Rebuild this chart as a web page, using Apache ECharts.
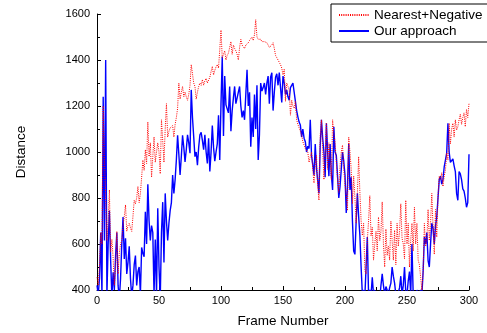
<!DOCTYPE html>
<html><head><meta charset="utf-8">
<script src="https://cdn.jsdelivr.net/npm/echarts@6/dist/echarts.min.js"></script>
<style>html,body{margin:0;padding:0;background:#fff}#c{width:487px;height:333px}</style>
</head><body><div id="c"></div>
<script>
// Frame numbers 0..300 (one sample per frame)
const frameStart = 0, frameEnd = 300;
const xTicks = [0, 50, 100, 150, 200, 250, 300];
const yTicks = [400, 600, 800, 1000, 1200, 1400, 1600];
const seriesNames = ["Nearest+Negative", "Our approach"];

// Nearest+Negative distances, frames 0..300
const nearestNegative = [
455,420,500,650,600,1200,965,800,615,700,835,565,620,540,420,500,655,470,560,600,
615,680,720,770,655,680,690,670,655,720,790,775,800,850,780,820,890,965,920,1010,
950,1130,980,1040,890,980,1065,955,1000,1040,1000,905,1140,1050,955,1100,1210,1065,1090,1105,
1100,1115,1065,1120,1150,1190,1300,1230,1260,1285,1240,1260,1240,1225,1250,1290,1380,1340,1300,1285,
1230,1260,1285,1300,1290,1315,1290,1310,1320,1300,1305,1325,1350,1372,1335,1355,1370,1380,1365,1445,
1530,1410,1415,1440,1400,1420,1430,1455,1480,1425,1465,1450,1440,1425,1400,1455,1490,1465,1470,1450,
1465,1470,1475,1485,1490,1500,1485,1510,1575,1500,1490,1485,1490,1480,1475,1480,1485,1475,1465,1455,
1450,1465,1475,1450,1420,1410,1400,1400,1380,1365,1335,1360,1220,1300,1285,1270,1160,1225,1200,1190,
1220,1140,1120,1105,1090,1075,1045,1030,1015,1010,1000,955,980,1000,925,865,950,985,850,790,
1070,1140,1010,880,1000,1125,925,1040,960,880,1140,1080,1040,955,880,825,940,1000,1030,925,
860,810,745,1065,1000,925,775,895,800,690,820,980,825,700,637,690,485,470,615,700,
810,635,673,530,600,655,570,717,615,655,783,600,500,665,550,590,530,700,615,530,
660,510,690,590,655,775,625,600,535,790,600,690,500,615,690,570,760,600,690,530,
510,455,400,480,690,590,615,750,615,690,820,673,555,750,630,805,895,880,910,850,
895,920,995,965,1125,1035,1100,1125,1065,1140,1095,1110,1140,1165,1120,1150,1170,1110,1185,1150,
1210
];

// Our approach distances, frames 0..300
const ourApproach = [
420,380,450,650,380,1240,615,1400,380,600,745,530,370,477,400,550,650,420,360,450,
600,717,535,625,470,520,590,450,370,420,510,550,420,480,500,380,585,560,545,740,
600,860,700,615,680,650,380,620,380,755,500,360,650,782,520,820,700,615,690,745,
780,900,820,880,965,1073,990,900,980,1073,1020,957,1010,1075,1040,995,1270,1150,1065,980,
1000,943,1020,1075,1085,1050,1010,1075,1000,950,1060,915,1000,1115,1020,960,1000,1035,1160,965,
1210,1415,1070,1330,1205,1210,1170,1285,1090,1180,1235,1285,1210,1235,1260,1285,1200,1150,1180,1140,
1250,1357,1200,1260,1023,1150,1065,1250,1100,1290,965,1075,1300,1265,1280,1300,1250,1300,1330,1210,
1325,1345,1180,1260,1325,1340,1290,1345,1345,1215,1330,1300,1250,1270,1240,1225,1280,1290,1300,1260,
1220,1180,1153,1130,1117,1065,1100,1060,1045,1000,1025,1015,1140,985,945,900,1035,930,925,820,
1025,1140,1060,1000,890,1125,1000,895,1035,900,835,1110,1000,985,895,800,850,925,1000,960,
900,735,850,1035,835,890,700,570,555,700,820,720,637,500,380,400,370,500,630,380,
400,380,455,380,400,370,380,390,360,420,470,420,380,415,400,380,410,430,500,460,
430,380,370,390,410,460,380,420,500,390,380,440,480,380,600,380,390,370,400,380,
390,400,380,480,630,600,650,528,500,600,690,670,600,680,717,800,880,895,860,880,
935,965,995,1125,1000,955,960,970,940,915,820,790,915,905,880,840,830,800,760,780,
990
];

const pairs = arr => arr.map((v, i) => [frameStart + i, v]);
const font = '"Liberation Sans", Arial, Helvetica, sans-serif';

const chart = echarts.init(document.getElementById('c'), null, {renderer: 'canvas'});
chart.setOption({
  animation: false,
  backgroundColor: '#fff',
  grid: {left: 97, right: 18, top: 14, bottom: 43, containLabel: false},
  legend: {
    data: [
      {name: seriesNames[0]},
      {name: seriesNames[1]}
    ],
    orient: 'vertical', left: 331, top: 4,
    itemWidth: 30, itemHeight: 14, itemGap: 2,
    padding: [4, 6, 4, 7],
    backgroundColor: '#fff', borderColor: '#000', borderWidth: 1,
    itemStyle: {opacity: 0, color: 'rgba(0,0,0,0)', borderWidth: 0},
    textStyle: {fontFamily: font, fontSize: 13.5, color: '#000'},
    selectedMode: false
  },
  xAxis: {
    type: 'value', min: xTicks[0], max: xTicks[xTicks.length - 1], interval: 50,
    name: 'Frame Number', nameLocation: 'middle', nameGap: 24,
    nameTextStyle: {fontFamily: font, fontSize: 13.5, color: '#000'},
    axisLine: {show: true, lineStyle: {color: '#000', width: 1}},
    axisTick: {show: true, inside: true, length: 4, lineStyle: {color: '#000'}},
    minorTick: {show: true, splitNumber: 2, length: 3, lineStyle: {color: '#000'}},
    axisLabel: {fontFamily: font, fontSize: 11, color: '#000', margin: 5, formatter: v => String(v)},
    splitLine: {show: false}
  },
  yAxis: {
    type: 'value', min: yTicks[0], max: yTicks[yTicks.length - 1], interval: 200,
    name: 'Distance', nameLocation: 'middle', nameGap: 69,
    nameTextStyle: {fontFamily: font, fontSize: 13.5, color: '#000'},
    axisLine: {show: true, lineStyle: {color: '#000', width: 1}},
    axisTick: {show: true, inside: true, length: 4, lineStyle: {color: '#000'}},
    minorTick: {show: true, splitNumber: 2, length: 3, lineStyle: {color: '#000'}},
    axisLabel: {fontFamily: font, fontSize: 11, color: '#000', margin: 7, formatter: v => String(v)},
    splitLine: {show: false}
  },
  series: [
    {
      name: seriesNames[0], type: 'line', data: pairs(nearestNegative),
      symbol: 'none', z: 3, clip: true,
      lineStyle: {color: '#ff0000', width: 1, type: [1, 1.2]},
      itemStyle: {color: '#ff0000'}
    },
    {
      name: seriesNames[1], type: 'line', data: pairs(ourApproach),
      symbol: 'none', z: 2, clip: true,
      lineStyle: {color: '#0000ff', width: 1.4},
      itemStyle: {color: '#0000ff'}
    }
  ]
});
</script></body></html>
